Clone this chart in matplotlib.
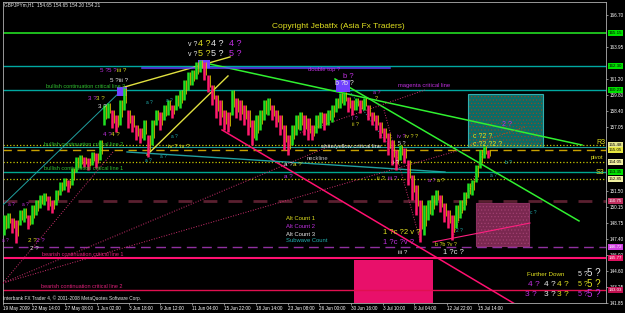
import matplotlib
matplotlib.use("Agg")
import matplotlib.pyplot as plt
from matplotlib.patches import Rectangle
import matplotlib.transforms as mtransforms

W, H = 625, 313
plt.rcParams['font.family'] = ["Liberation Sans", "DejaVu Sans"]
plt.rcParams['hatch.linewidth'] = 0.5

# ---------------- data (GBPJPY H1, sampled bars) ----------------
highs = [149.44, 149.62, 149.19, 149.01, 149.88, 150.05, 149.44, 150.31, 150.74, 151.17,
         151.34, 151.08, 150.74, 151.60, 152.29, 152.64, 152.46, 153.50, 154.45, 154.62,
         154.45, 154.36, 154.88, 154.79, 155.91, 158.93, 159.11, 158.50, 158.07, 159.37,
         160.40, 158.50, 158.07, 157.21, 156.95, 157.64, 156.35, 157.64, 158.50, 158.33,
         158.93, 159.37, 158.93, 159.80, 160.23, 161.09, 161.78, 161.95, 162.64, 162.82,
         162.64, 161.52, 160.66, 159.80, 159.37, 158.50, 158.33, 160.23, 159.54, 159.37,
         158.93, 158.50, 157.64, 158.07, 158.50, 159.37, 159.54, 158.93, 158.50, 158.07,
         157.21, 156.35, 157.21, 158.07, 158.33, 158.07, 157.81, 157.21, 158.07, 158.33,
         158.24, 158.50, 158.93, 159.54, 159.97, 160.06, 159.62, 159.37, 159.54, 159.37,
         159.54, 158.93, 158.33, 158.07, 157.47, 156.95, 156.52, 155.91, 155.05, 155.48,
         155.23, 154.19, 152.90, 152.03, 150.74, 150.31, 150.74, 151.17, 151.60, 151.17,
         150.48, 149.88, 149.44, 150.31, 150.74, 151.43, 152.20, 152.46, 153.76, 155.05,
         155.39, 155.05]
lows = [147.72, 148.32, 147.89, 147.03, 148.58, 148.84, 148.24, 148.67, 149.44, 150.05,
        150.31, 149.88, 149.62, 150.31, 151.17, 151.60, 151.43, 152.03, 153.15, 153.50,
        153.59, 153.33, 153.76, 153.50, 154.19, 157.21, 157.81, 156.95, 156.61, 157.21,
        158.50, 156.95, 156.61, 155.91, 155.66, 155.91, 154.45, 155.48, 157.21, 156.78,
        157.64, 158.07, 157.81, 158.50, 158.68, 159.37, 160.23, 160.66, 161.18, 161.78,
        161.09, 160.06, 158.93, 157.81, 157.21, 156.78, 156.61, 158.07, 157.81, 157.64,
        157.21, 156.35, 155.48, 155.91, 156.78, 157.64, 158.07, 157.64, 157.04, 156.35,
        155.05, 154.62, 155.48, 156.35, 156.78, 156.35, 155.91, 155.91, 156.52, 156.95,
        156.78, 157.21, 157.47, 158.33, 158.68, 158.93, 158.33, 158.07, 158.50, 158.24,
        158.50, 157.64, 157.21, 156.78, 156.09, 155.74, 154.62, 153.76, 153.33, 154.19,
        153.93, 152.03, 150.74, 149.44, 147.11, 147.72, 149.01, 149.44, 150.31, 149.70,
        148.84, 148.32, 147.29, 148.32, 149.19, 149.88, 150.91, 151.17, 152.29, 153.50,
        154.36, 154.36]

x_tick_pos = [-0.2, 7, 15.25, 23.25, 31.25, 39, 47, 55, 63, 71, 78.75, 86.75, 94.75, 102.5, 110.75, 118.5]
x_tick_labels = ["19 May 2009", "22 May 14:00", "27 May 08:00", "1 Jun 02:00", "3 Jun 18:00",
                 "9 Jun 12:00", "11 Jun 04:00", "15 Jun 22:00", "18 Jun 14:00", "23 Jun 08:00",
                 "26 Jun 00:00", "30 Jun 16:00", "3 Jul 10:00", "8 Jul 04:00", "12 Jul 22:00",
                 "15 Jul 14:00"]
y_ticks = [166.70, 163.95, 161.20, 159.80, 158.40, 157.05, 151.50, 150.15, 148.75,
           147.40, 146.00, 144.60, 143.25, 141.85]

levels = [165.15, 162.30, 160.23, 155.48, 155.31, 155.05, 154.03, 153.15, 152.55,
          150.65, 146.68, 145.73, 142.97]
level_labels = ["165.15", "162.30", "160.23", "155.48", None, "155.05", "154.05", "153.35",
                "152.85", "150.75", "146.72", "145.77", "143.03"]

# trend lines: (bar0, price0, bar1, price1)
trend_solid = [
    (29.25, 160.40, 56.5, 163.08, '#e0e040', 1.0),
    (35.75, 154.62, 56.0, 161.44, '#e0e040', 1.0),
    (50.25, 162.56, 144.5, 155.48, '#30f030', 1.1),
    (82.75, 161.18, 143.75, 148.93, '#30f030', 1.1),
    (54.5, 156.78, 127.75, 141.76, '#ff1070', 1.1),
    (-0.25, 150.31, 29.5, 160.23, '#20a0a0', 0.7),
    (30.75, 154.88, 110.25, 153.15, '#20a0a0', 1.0),
    (34.5, 162.16, 96.5, 162.16, '#6040ff', 1.1),
    (107.25, 147.11, 131.5, 148.75, '#ff2080', 0.8),
]
trend_dotted = [
    (-0.25, 143.58, 81.5, 155.40, '#d03070'),
    (-0.25, 143.58, 114.0, 155.05, '#d03070'),
    (-0.25, 143.58, 27.25, 154.88, '#d03070'),
    (74.0, 156.52, 105.25, 160.23, '#d03070'),
    (116.5, 155.48, 130.25, 157.04, '#c05020'),
    (95.0, 158.50, 104.0, 147.29, '#d03070'),
    (112.0, 147.29, 120.0, 155.05, '#d03070'),
    (85.25, 160.66, 97.0, 155.05, '#20a0a0'),
]
# zones: (bar0, bar1, price0, price1)
zones = [(116.0, 134.75, 155.31, 159.88), (118.0, 131.25, 146.77, 150.48), (87.5, 107.25, 141.85, 145.56)]
markers = [(28.25, 30.75, 159.71, 160.49), (48.5, 51.5, 162.13, 162.82), (83.0, 86.5, 160.06, 161.09)]

# ---------------- figure ----------------
fig = plt.figure(figsize=(W / 100, H / 100), dpi=100, facecolor='black')
ax = fig.add_axes([3 / W, 10 / H, 603 / W, 301 / H])
ax.set_facecolor('black')
ax.set_xlim(-0.25, 150.5)
ax.set_ylim(141.85, 167.82)

# zones
zone_style = [('#0b6c68', '#8a4a22', '#30b0b0'), ('#7a2850', '#a04070', '#8a3060'), ('#e8106a', None, '#e8106a')]
for (b0, b1, p0, p1), (fc, hc, ec) in zip(zones, zone_style):
    if hc:
        ax.add_patch(Rectangle((b0, p0), b1 - b0, p1 - p0, facecolor=fc, edgecolor=hc, hatch='.....', lw=0, zorder=1))
        ax.add_patch(Rectangle((b0, p0), b1 - b0, p1 - p0, fill=False, edgecolor=ec, lw=0.8, zorder=1))
    else:
        ax.add_patch(Rectangle((b0, p0), b1 - b0, p1 - p0, facecolor=fc, edgecolor=ec, lw=0, zorder=1))

# horizontal levels
level_style = [('#22dd22', '-', 1.2), ('#00a8a0', '-', 1.0), ('#00a8a0', '-', 1.0), ('#c8c800', ':', 0.9),
               ('#20a0a0', '-', 0.8), ('#c8a000', (0, (6, 4)), 1.0), ('#c8c800', ':', 0.9),
               ('#00a890', '-', 1.0), ('#c8c800', ':', 0.9), ('#5a2030', (0, (5, 4)), 2.0),
               ('#9030a0', (0, (7, 4)), 1.0), ('#ff1070', '-', 1.5), ('#e01050', '-', 1.0)]
label_style = ['#00e000', '#00e000', '#00e000', '#e8e890', None, '#e8e840', '#f0f0a0', '#00e000',
               '#f0f0a0', '#c03060', '#d040e0', '#e01060', '#c01050']
blend = mtransforms.blended_transform_factory(ax.transAxes, ax.transData)
for v, (c, ls, lw), lab, bg in zip(levels, level_style, level_labels, label_style):
    ax.axhline(v, color=c, ls=ls, lw=lw, zorder=2)
    if lab:
        fg = 'black' if bg in ('#00e000', '#e8e890', '#e8e840', '#f0f0a0') else 'white'
        ax.text(1.004, v, lab, transform=blend, fontsize=3.2, color=fg, va='center', ha='left',
                clip_on=False, zorder=10,
                bbox=dict(boxstyle='square,pad=0.2', fc=bg, ec='none'))

# trend lines
for b0, p0, b1, p1, c, lw in trend_solid:
    ax.plot([b0, b1], [p0, p1], color=c, lw=lw, zorder=3)
for b0, p0, b1, p1, c in trend_dotted:
    ax.plot([b0, b1], [p0, p1], color=c, lw=0.7, ls=':', zorder=3)

# markers
for b0, b1, p0, p1 in markers:
    ax.add_patch(Rectangle((b0, p0), b1 - b0, p1 - p0, facecolor='#7040ff', edgecolor='none', zorder=4))

# price bars
up, down, wick = '#20e020', '#ff1a6e', '#d8c000'
for i in range(len(highs)):
    mid = (highs[i] + lows[i]) / 2
    prev = (highs[i - 1] + lows[i - 1]) / 2 if i else mid
    col = up if mid >= prev else down
    ax.vlines(i, lows[i], highs[i], color=col, lw=1.8, zorder=5)
    ax.vlines(i + 0.45, lows[i] + 0.3 * (highs[i] - lows[i]), highs[i], color=wick, lw=0.6, zorder=5)

# axes styling
for s in ax.spines.values():
    s.set_color('#b0b0b0')
    s.set_linewidth(0.6)
ax.yaxis.tick_right()
ax.set_yticks(y_ticks)
ax.set_yticklabels([f"{v:.2f}" for v in y_ticks])
ax.set_xticks(x_tick_pos)
ax.set_xticklabels(x_tick_labels)
for lbl in ax.get_xticklabels():
    lbl.set_horizontalalignment('left')
ax.tick_params(axis='both', colors='#c0c0c0', labelcolor='white', labelsize=3.3, length=1.5, width=0.5, pad=0.8)

# ---------------- texts ----------------
Y, M, Wh, G, P, Tq = '#e0e020', '#c030e0', '#e8e8e8', '#30c030', '#e0207a', '#20b0b0'


def t(x, y, s, c, fs=4.0):
    fig.text(x / W, 1 - y / H, s, color=c, fontsize=fs, va='center', ha='left', zorder=20)


t(4, 5, "GBPJPYm,H1  154.65 154.65 154.20 154.21", Wh, 3.4)
t(272, 26, "Copyright Jebatfx (Asia Fx Traders)", Y, 6)
t(3, 298, "Interbank FX Trader 4, \u00a9 2001-2008 MetaQuotes Software Corp.", Wh, 3.4)

t(46, 87, "bullish continuation critical line 3", G, 4)
t(44, 144, "bullish continuation critical line 2", G, 4)
t(44, 168, "bullish continuation critical line 1", G, 4)
t(42, 254, "bearish continuation critical line 1", P, 4)
t(41, 286, "bearish continuation critical line 2", P, 4)
t(308, 69, "double top ?", M, 4.2)
t(398, 85, "magenta critical line", M, 4.2)
t(320, 146, "white/yellow critical line", Wh, 4.2)
t(307, 158, "neckline", '#c0c0c0', 4.2)
t(596, 142, "R3", Y, 5)
t(591, 157, "pivot", Y, 4.2)
t(596, 172, "S3", Y, 5)

t(286, 218, "Alt Count 1", Y, 4.2)
t(286, 226, "Alt Count 2", M, 4.2)
t(286, 234, "Alt Count 3", Wh, 4.2)
t(286, 241, "Subwave Count", Tq, 4.2)

# wave labels
t(188, 45, "v ?", Wh, 5); t(198, 44, "4 ?", Y, 6.5); t(211, 44, "4 ?", Wh, 6.5); t(229, 44, "4 ?", M, 6.5)
t(188, 55, "v ?", Wh, 5); t(198, 54, "5 ?", Y, 6.5); t(211, 54, "5 ?", Wh, 6.5); t(229, 54, "5 ?", M, 6.5)
t(100, 71, "5 ?", M, 4.5); t(108, 71, "5 ?", M, 4.5); t(117, 71, "iii ?", Y, 4.5)
t(110, 80, "5 ?iii ?", Wh, 4.5)
t(88, 98, "3 ?", M, 4.5); t(96, 98, "3 ?", Y, 4.5)
t(98, 106, "3 ?", Wh, 4.5)
t(103, 134, "4 ?", M, 4.5); t(111, 134, "4 ?", Y, 4.5)
t(168, 147, "iv ?", Y, 4.5); t(180, 147, "iv ?", Y, 4.5)
for (xx, yy) in [(146, 103), (166, 101), (171, 137), (160, 156), (145, 160)]:
    t(xx, yy, "a ?", Tq, 3.4)
t(28, 240, "2 ?", Y, 4.5); t(36, 240, "2 ?", M, 4.5)
t(30, 248, "2 ?", Wh, 4.5)
t(8, 205, "a ?", M, 3.4); t(22, 205, "a ?", M, 3.4); t(2, 240, "a ?", M, 3.4)
t(284, 165, "a ?", Wh, 4.5); t(293, 165, "a ?", Y, 4.5)
t(284, 177, "a ?", M, 4.5)

t(343, 76, "b ?", M, 5.5)
t(335, 84, "b ?", Wh, 5); t(344, 84, "b ?", Wh, 5)
t(373, 92, "a ?", M, 3.8); t(375, 98, "?", Y, 4)
t(352, 118, "i ?", M, 3.8); t(352, 125, "ii ?", Y, 3.8)
t(397, 137, "iv ?", M, 4); t(405, 137, "iv ?", Y, 4); t(415, 137, "?", Y, 4)
t(398, 143, "5 ?", Wh, 4)
t(473, 137, "c ?2 ?", Y, 5)
t(473, 145, "c ?2 ?2 ?", Y, 5)
t(502, 125, "2 ?", M, 5)
t(505, 163, "b ?", Tq, 3.5); t(490, 175, "a ?", Tq, 3.5); t(530, 213, "c ?", Tq, 3.5)
t(393, 163, "i ?", Wh, 4)
t(377, 179, "ii ?", Y, 4.5); t(388, 179, "iii ?", M, 4.5)
t(428, 180, "a ?", M, 3.8); t(437, 180, "a ?", Y, 3.8)
t(383, 233, "1 ?c ?2 v ?", Y, 5.5)
t(383, 242, "1 ?c ?v ?", M, 5.5)
t(398, 253, "iii ?", Wh, 4.5)
t(443, 253, "1 ?c ?", Wh, 5.5)
t(435, 245, "b ?b ?v ?", Y, 3.8)
t(456, 230, "2 ?", Tq, 3.5)

t(527, 274, "Further Down", Y, 4.5)
t(578, 274, "5 ?", Wh, 5); t(587, 273, "5 ?", Wh, 7)
t(528, 285, "4 ?", M, 6); t(544, 285, "4 ?", Wh, 6); t(557, 285, "4 ?", Y, 6)
t(578, 285, "5 ?", Y, 5); t(587, 284, "5 ?", Y, 7)
t(525, 295, "3 ?", M, 6); t(544, 295, "3 ?", Wh, 6); t(557, 295, "3 ?", Y, 6)
t(578, 295, "5 ?", M, 5); t(587, 294, "5 ?", M, 7)

fig.savefig("out.png", dpi=100, facecolor='black')
